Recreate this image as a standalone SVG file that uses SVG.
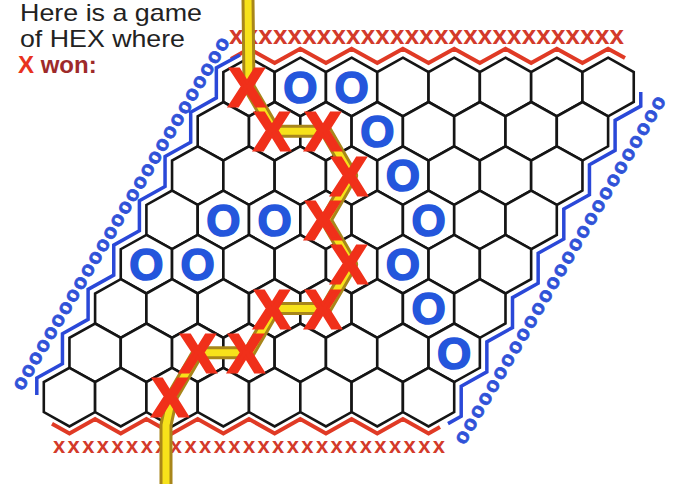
<svg xmlns="http://www.w3.org/2000/svg" width="674" height="484" viewBox="0 0 674 484">
<style>
.title{font-family:"Liberation Sans",Arial,sans-serif;font-size:24px;fill:#222}
.hexc{fill:#fff;stroke:#151515;stroke-width:2.6;stroke-linejoin:miter}
.xm{font-family:"Liberation Sans",Arial,sans-serif;font-weight:bold;font-size:53px;fill:#f0301a;stroke:#f0301a;stroke-width:3;text-anchor:middle}
.om{font-family:"Liberation Sans",Arial,sans-serif;font-weight:bold;font-size:44px;fill:#2456dc;stroke:#2456dc;stroke-width:1.6;text-anchor:middle}
.redline{fill:none;stroke:#e03a25;stroke-width:4;stroke-linejoin:miter}
.blueline{fill:none;stroke:#2a48d8;stroke-width:3.5;stroke-linejoin:miter}
.xrow{font-family:"Liberation Sans",Arial,sans-serif;font-weight:bold;fill:#d33a2a}
.orow{font-family:"Liberation Sans",Arial,sans-serif;font-weight:bold;font-size:21px;fill:#2f52d8;stroke:#2f52d8;stroke-width:0.8}
</style>
<defs>
<polygon id="hex" class="hexc" points="0,-29.3 25.65,-15 25.65,15 0,29.3 -25.65,15 -25.65,-15"/>
</defs>
<rect width="674" height="484" fill="#fff"/>

<g id="caption">
<text class="title" x="20" y="21" textLength="182" lengthAdjust="spacingAndGlyphs">Here is a game</text>
<text class="title" x="20" y="47" textLength="165" lengthAdjust="spacingAndGlyphs">of HEX where</text>
<text class="title" x="18" y="73" font-weight="bold" font-size="25"><tspan fill="#e8321e">X</tspan><tspan fill="#9e2a2a"> won:</tspan></text>
</g>

<g id="x-edges">
<text class="xrow" x="229" y="44" font-size="26" textLength="395" lengthAdjust="spacing">xxxxxxxxxxxxxxxxxxxxxxxxxxx</text>
<polyline class="redline" points="231,59 249,48.7 274.65,63 300.3,48.7 325.95,63 351.6,48.7 377.25,63 402.9,48.7 428.55,63 454.2,48.7 479.85,63 505.5,48.7 531.15,63 556.8,48.7 582.45,63 608.1,48.7 625,58"/>
<text class="xrow" x="53" y="453" font-size="22" textLength="392" lengthAdjust="spacing" fill="#c94040">xxxxxxxxxxxxxxxxxxxxxxxxxxx</text>
<polyline class="redline" points="52,423.7 69.45,433.4 95.1,419.1 120.75,433.4 146.4,419.1 172.05,433.4 197.7,419.1 223.35,433.4 249,419.1 274.65,433.4 300.3,419.1 325.95,433.4 351.6,419.1 377.25,433.4 402.9,419.1 428.55,433.4 440,427"/>
</g>

<g id="o-edges">
<text class="orow" transform="translate(16,388) rotate(-59.3)" textLength="407" lengthAdjust="spacing" dominant-baseline="central">oooooooooooooooooooooooooooo</text>
<polyline class="blueline" points="240,55 216.35,67.9 216.35,97.9 190.7,112.2 190.7,142.2 165.05,156.5 165.05,186.5 139.4,200.8 139.4,230.8 113.75,245.1 113.75,275.1 88.1,289.4 88.1,319.4 62.45,333.7 62.45,363.7 36.8,378 36.8,395"/>
<text class="orow" transform="translate(458,442) rotate(-59.65)" textLength="400" lengthAdjust="spacing" dominant-baseline="central">ooooooooooooooooooooooooooo</text>
<polyline class="blueline" points="640.75,92 640.75,106.1 615.1,120.4 615.1,150.4 589.45,164.7 589.45,194.7 563.8,209 563.8,239 538.15,253.3 538.15,283.3 512.5,297.6 512.5,327.6 486.85,341.9 486.85,371.9 461.2,386.2 461.2,416.2 448,423.6"/>
</g>

<g id="board">
<g id="row1"><use href="#hex" x="249" y="87"/><use href="#hex" x="300.3" y="87"/><use href="#hex" x="351.6" y="87"/><use href="#hex" x="402.9" y="87"/><use href="#hex" x="454.2" y="87"/><use href="#hex" x="505.5" y="87"/><use href="#hex" x="556.8" y="87"/><use href="#hex" x="608.1" y="87"/></g>
<g id="row2"><use href="#hex" x="223.35" y="131.3"/><use href="#hex" x="274.65" y="131.3"/><use href="#hex" x="325.95" y="131.3"/><use href="#hex" x="377.25" y="131.3"/><use href="#hex" x="428.55" y="131.3"/><use href="#hex" x="479.85" y="131.3"/><use href="#hex" x="531.15" y="131.3"/><use href="#hex" x="582.45" y="131.3"/></g>
<g id="row3"><use href="#hex" x="197.7" y="175.6"/><use href="#hex" x="249" y="175.6"/><use href="#hex" x="300.3" y="175.6"/><use href="#hex" x="351.6" y="175.6"/><use href="#hex" x="402.9" y="175.6"/><use href="#hex" x="454.2" y="175.6"/><use href="#hex" x="505.5" y="175.6"/><use href="#hex" x="556.8" y="175.6"/></g>
<g id="row4"><use href="#hex" x="172.05" y="219.9"/><use href="#hex" x="223.35" y="219.9"/><use href="#hex" x="274.65" y="219.9"/><use href="#hex" x="325.95" y="219.9"/><use href="#hex" x="377.25" y="219.9"/><use href="#hex" x="428.55" y="219.9"/><use href="#hex" x="479.85" y="219.9"/><use href="#hex" x="531.15" y="219.9"/></g>
<g id="row5"><use href="#hex" x="146.4" y="264.2"/><use href="#hex" x="197.7" y="264.2"/><use href="#hex" x="249" y="264.2"/><use href="#hex" x="300.3" y="264.2"/><use href="#hex" x="351.6" y="264.2"/><use href="#hex" x="402.9" y="264.2"/><use href="#hex" x="454.2" y="264.2"/><use href="#hex" x="505.5" y="264.2"/></g>
<g id="row6"><use href="#hex" x="120.75" y="308.5"/><use href="#hex" x="172.05" y="308.5"/><use href="#hex" x="223.35" y="308.5"/><use href="#hex" x="274.65" y="308.5"/><use href="#hex" x="325.95" y="308.5"/><use href="#hex" x="377.25" y="308.5"/><use href="#hex" x="428.55" y="308.5"/><use href="#hex" x="479.85" y="308.5"/></g>
<g id="row7"><use href="#hex" x="95.1" y="352.8"/><use href="#hex" x="146.4" y="352.8"/><use href="#hex" x="197.7" y="352.8"/><use href="#hex" x="249" y="352.8"/><use href="#hex" x="300.3" y="352.8"/><use href="#hex" x="351.6" y="352.8"/><use href="#hex" x="402.9" y="352.8"/><use href="#hex" x="454.2" y="352.8"/></g>
<g id="row8"><use href="#hex" x="69.45" y="397.1"/><use href="#hex" x="120.75" y="397.1"/><use href="#hex" x="172.05" y="397.1"/><use href="#hex" x="223.35" y="397.1"/><use href="#hex" x="274.65" y="397.1"/><use href="#hex" x="325.95" y="397.1"/><use href="#hex" x="377.25" y="397.1"/><use href="#hex" x="428.55" y="397.1"/></g>
</g>

<g id="connectors" fill="none" stroke-linejoin="round" stroke-linecap="butt">
<polyline stroke="#a8861a" stroke-width="13" points="248,0 249,87 274.65,131.3 325.95,131.3 351.6,175.6 325.95,219.9 351.6,264.2 325.95,308.5 274.65,308.5 249,352.8 197.7,352.8 172.05,397.1 166,425 166,484"/>
<polyline stroke="#f7e21a" stroke-width="7" points="248,0 249,87 274.65,131.3 325.95,131.3 351.6,175.6 325.95,219.9 351.6,264.2 325.95,308.5 274.65,308.5 249,352.8 197.7,352.8 172.05,397.1 166,425 166,484"/>
</g>

<g id="stones">
<text id="x-r1c1" class="xm" x="247" y="106">X</text>
<text id="x-r2c2" class="xm" x="272" y="150.3">X</text>
<text id="x-r2c3" class="xm" x="323" y="150.3">X</text>
<text id="x-r3c4" class="xm" x="349" y="194.6">X</text>
<text id="x-r4c4" class="xm" x="323" y="238.9">X</text>
<text id="x-r5c5" class="xm" x="349" y="283.2">X</text>
<text id="x-r6c5" class="xm" x="323" y="327.5">X</text>
<text id="x-r6c4" class="xm" x="272" y="327.5">X</text>
<text id="x-r7c4" class="xm" x="246" y="371.8">X</text>
<text id="x-r7c3" class="xm" x="198" y="371.8">X</text>
<text id="x-r8c3" class="xm" x="170" y="416.1">X</text>
<text id="o-r1c2" class="om" x="300.3" y="102.7">O</text>
<text id="o-r1c3" class="om" x="351.6" y="102.7">O</text>
<text id="o-r2c4" class="om" x="377.25" y="147">O</text>
<text id="o-r3c5" class="om" x="402.9" y="191.3">O</text>
<text id="o-r4c2" class="om" x="223.35" y="235.6">O</text>
<text id="o-r4c3" class="om" x="274.65" y="235.6">O</text>
<text id="o-r4c6" class="om" x="428.55" y="235.6">O</text>
<text id="o-r5c1" class="om" x="146.4" y="279.9">O</text>
<text id="o-r5c2" class="om" x="197.7" y="279.9">O</text>
<text id="o-r5c6" class="om" x="402.9" y="279.9">O</text>
<text id="o-r6c7" class="om" x="428.55" y="324.2">O</text>
<text id="o-r7c8" class="om" x="454.2" y="368.5">O</text>
</g>
</svg>
